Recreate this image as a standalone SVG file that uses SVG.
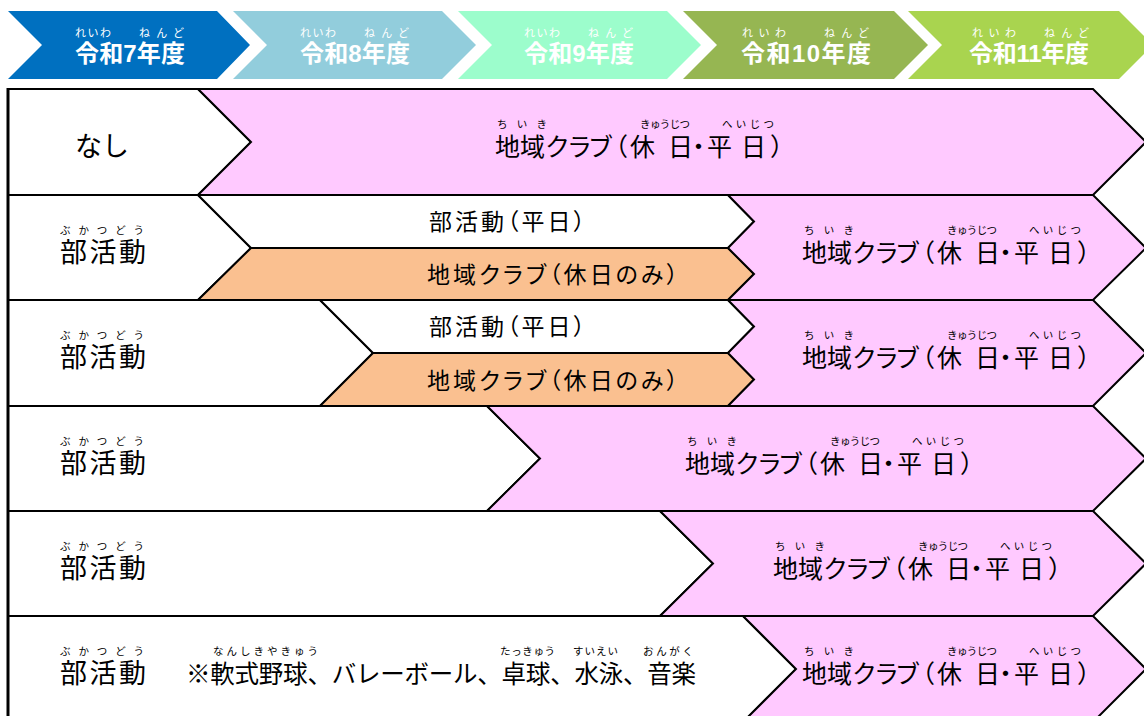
<svg xmlns="http://www.w3.org/2000/svg" width="1144" height="716" viewBox="0 0 1144 716">
<style>
.hd{font-family:"Liberation Sans","Noto Sans CJK JP",sans-serif;font-weight:bold;font-size:24px;fill:#fff}
.hr{font-family:"Liberation Sans","Noto Sans CJK JP",sans-serif;font-size:11px;fill:#fff}
.m{font-family:"Liberation Sans","Noto Sans CJK JP",sans-serif;font-size:25px;fill:#000}
.b{font-family:"Liberation Sans","Noto Sans CJK JP",sans-serif;font-size:27px;fill:#000}
.s{font-family:"Liberation Sans","Noto Sans CJK JP",sans-serif;font-size:23px;fill:#000;font-feature-settings:"palt"}
.r{font-family:"Liberation Sans","Noto Sans CJK JP",sans-serif;font-size:10.5px;fill:#000}
.cell{stroke:#000;stroke-width:2;stroke-linejoin:miter}
.w{fill:#fff}
.p{fill:#FFC9FF}
.o{fill:#FAC090}
</style>
<rect x="0" y="0" width="1144" height="716" fill="#fff"/>

<!-- header -->
<g id="year7">
<path d="M8,11 H217 L250,45 L217,79 H8 L42,45 Z" fill="#0070C0"/>
<text class="hr" x="75" y="37" textLength="36" lengthAdjust="spacing">れいわ</text>
<text class="hr" x="139" y="37" textLength="45" lengthAdjust="spacing">ねんど</text>
<text class="hd" x="75" y="62" textLength="110" lengthAdjust="spacing">令和7年度</text>
</g>
<g id="year8">
<path d="M233,11 H442 L476,45 L442,79 H233 L267,45 Z" fill="#92CDDC"/>
<text class="hr" x="300" y="37" textLength="36" lengthAdjust="spacing">れいわ</text>
<text class="hr" x="364" y="37" textLength="45" lengthAdjust="spacing">ねんど</text>
<text class="hd" x="300" y="62" textLength="110" lengthAdjust="spacing">令和8年度</text>
</g>
<g id="year9">
<path d="M458,11 H667 L701,45 L667,79 H458 L492,45 Z" fill="#9CFDCC"/>
<text class="hr" x="524" y="37" textLength="36" lengthAdjust="spacing">れいわ</text>
<text class="hr" x="588" y="37" textLength="45" lengthAdjust="spacing">ねんど</text>
<text class="hd" x="524" y="62" textLength="110" lengthAdjust="spacing">令和9年度</text>
</g>
<g id="year10">
<path d="M683,11 H894 L928,45 L894,79 H683 L717,45 Z" fill="#96B652"/>
<text class="hr" x="742" y="37" textLength="44" lengthAdjust="spacing">れいわ</text>
<text class="hr" x="824" y="37" textLength="45" lengthAdjust="spacing">ねんど</text>
<text class="hd" x="741" y="62" textLength="130" lengthAdjust="spacing">令和10年度</text>
</g>
<g id="year11">
<path d="M908,11 H1119 L1153,45 L1119,79 H908 L942,45 Z" fill="#A9D44F"/>
<text class="hr" x="972" y="37" textLength="44" lengthAdjust="spacing">れいわ</text>
<text class="hr" x="1044" y="37" textLength="45" lengthAdjust="spacing">ねんど</text>
<text class="hd" x="969" y="62" textLength="120" lengthAdjust="spacing">令和11年度</text>
</g>

<!-- row 1 -->
<g id="row1">
<path class="cell w" d="M8,89 H198 L251,142 L198,195 H8 Z"/>
<path class="cell p" d="M198,89 H1093 L1146,142 L1093,195 H198 L251,142 Z"/>
<text class="b" x="75" y="156">なし</text>
<text class="r" x="497" y="128" textLength="50" lengthAdjust="spacing">ちいき</text>
<text class="r" x="640" y="128" textLength="50" lengthAdjust="spacing">きゅうじつ</text>
<text class="r" x="722" y="128" textLength="52" lengthAdjust="spacing">へいじつ</text>
<text class="m" x="495 520 545 567 588 603 630 668 686 707 741 770" y="156">地域クラブ（休日・平日）</text>
</g>

<!-- row 2 -->
<g id="row2">
<path class="cell w" d="M8,195 H198 L251,248 L198,300 H8 Z"/>
<path class="cell w" d="M198,195 H728 L754,221.5 L728,248 H251 Z"/>
<path class="cell o" d="M251,248 H728 L754,274 L728,300 H198 Z"/>
<path class="cell p" d="M728,195 H1093 L1146,248 L1093,300 H728 L754,274 L728,248 L754,221.5 Z"/>
<text class="r" x="60" y="234" textLength="84" lengthAdjust="spacing">ぶかつどう</text>
<text class="b" x="60" y="262" textLength="86" lengthAdjust="spacing">部活動</text>
<text class="s" x="429" y="230" textLength="156" lengthAdjust="spacing">部活動（平日）</text>
<text class="s" x="427" y="283" textLength="251" lengthAdjust="spacing">地域クラブ（休日のみ）</text>
<text class="r" x="804" y="234" textLength="50" lengthAdjust="spacing">ちいき</text>
<text class="r" x="947" y="234" textLength="50" lengthAdjust="spacing">きゅうじつ</text>
<text class="r" x="1029" y="234" textLength="52" lengthAdjust="spacing">へいじつ</text>
<text class="m" x="802 827 852 874 895 910 937 975 993 1014 1048 1077" y="262">地域クラブ（休日・平日）</text>
</g>

<!-- row 3 -->
<g id="row3">
<path class="cell w" d="M8,300 H320 L373,353 L320,406 H8 Z"/>
<path class="cell w" d="M320,300 H728 L754,326.5 L728,353 H373 Z"/>
<path class="cell o" d="M373,353 H728 L754,379.5 L728,406 H320 Z"/>
<path class="cell p" d="M728,300 H1093 L1146,353 L1093,406 H728 L754,379.5 L728,353 L754,326.5 Z"/>
<text class="r" x="60" y="339" textLength="84" lengthAdjust="spacing">ぶかつどう</text>
<text class="b" x="60" y="367" textLength="86" lengthAdjust="spacing">部活動</text>
<text class="s" x="429" y="335" textLength="156" lengthAdjust="spacing">部活動（平日）</text>
<text class="s" x="427" y="389" textLength="251" lengthAdjust="spacing">地域クラブ（休日のみ）</text>
<text class="r" x="804" y="339" textLength="50" lengthAdjust="spacing">ちいき</text>
<text class="r" x="947" y="339" textLength="50" lengthAdjust="spacing">きゅうじつ</text>
<text class="r" x="1029" y="339" textLength="52" lengthAdjust="spacing">へいじつ</text>
<text class="m" x="802 827 852 874 895 910 937 975 993 1014 1048 1077" y="367">地域クラブ（休日・平日）</text>
</g>

<!-- row 4 -->
<g id="row4">
<path class="cell w" d="M8,406 H487 L540,458.5 L487,511 H8 Z"/>
<path class="cell p" d="M487,406 H1093 L1146,458.5 L1093,511 H487 L540,458.5 Z"/>
<text class="r" x="60" y="445" textLength="84" lengthAdjust="spacing">ぶかつどう</text>
<text class="b" x="60" y="473" textLength="86" lengthAdjust="spacing">部活動</text>
<text class="r" x="687" y="445" textLength="50" lengthAdjust="spacing">ちいき</text>
<text class="r" x="830" y="445" textLength="50" lengthAdjust="spacing">きゅうじつ</text>
<text class="r" x="912" y="445" textLength="52" lengthAdjust="spacing">へいじつ</text>
<text class="m" x="685 710 735 757 778 793 820 858 876 897 931 960" y="473">地域クラブ（休日・平日）</text>
</g>

<!-- row 5 -->
<g id="row5">
<path class="cell w" d="M8,511 H660 L713,563.5 L660,616 H8 Z"/>
<path class="cell p" d="M660,511 H1093 L1146,563.5 L1093,616 H660 L713,563.5 Z"/>
<text class="r" x="60" y="550" textLength="84" lengthAdjust="spacing">ぶかつどう</text>
<text class="b" x="60" y="578" textLength="86" lengthAdjust="spacing">部活動</text>
<text class="r" x="775" y="550" textLength="50" lengthAdjust="spacing">ちいき</text>
<text class="r" x="918" y="550" textLength="50" lengthAdjust="spacing">きゅうじつ</text>
<text class="r" x="1000" y="550" textLength="52" lengthAdjust="spacing">へいじつ</text>
<text class="m" x="773 798 823 845 866 881 908 946 964 985 1019 1048" y="578">地域クラブ（休日・平日）</text>
</g>

<!-- row 6 -->
<g id="row6">
<path class="cell w" d="M8,616 H743 L796,669 L743,722 H8 Z"/>
<path class="cell p" d="M743,616 H1093 L1146,669 L1093,722 H743 L796,669 Z"/>
<text class="r" x="60" y="655" textLength="84" lengthAdjust="spacing">ぶかつどう</text>
<text class="b" x="60" y="683" textLength="86" lengthAdjust="spacing">部活動</text>
<text class="r" x="213" y="655" textLength="105" lengthAdjust="spacing">なんしきやきゅう</text>
<text class="r" x="500" y="655" textLength="55" lengthAdjust="spacing">たっきゅう</text>
<text class="r" x="573" y="655" textLength="45" lengthAdjust="spacing">すいえい</text>
<text class="r" x="643" y="655" textLength="50" lengthAdjust="spacing">おんがく</text>
<text class="m" x="186" y="683" textLength="510" lengthAdjust="spacing" style="font-size:24.5px">※軟式野球、バレーボール、卓球、水泳、音楽</text>
<text class="r" x="804" y="655" textLength="50" lengthAdjust="spacing">ちいき</text>
<text class="r" x="947" y="655" textLength="50" lengthAdjust="spacing">きゅうじつ</text>
<text class="r" x="1029" y="655" textLength="52" lengthAdjust="spacing">へいじつ</text>
<text class="m" x="802 827 852 874 895 910 937 975 993 1014 1048 1077" y="683">地域クラブ（休日・平日）</text>
</g>

<!-- outer left border -->
<g id="connectors">
<line x1="8" y1="88" x2="8" y2="716" stroke="#000" stroke-width="3"/>
</g>
</svg>
